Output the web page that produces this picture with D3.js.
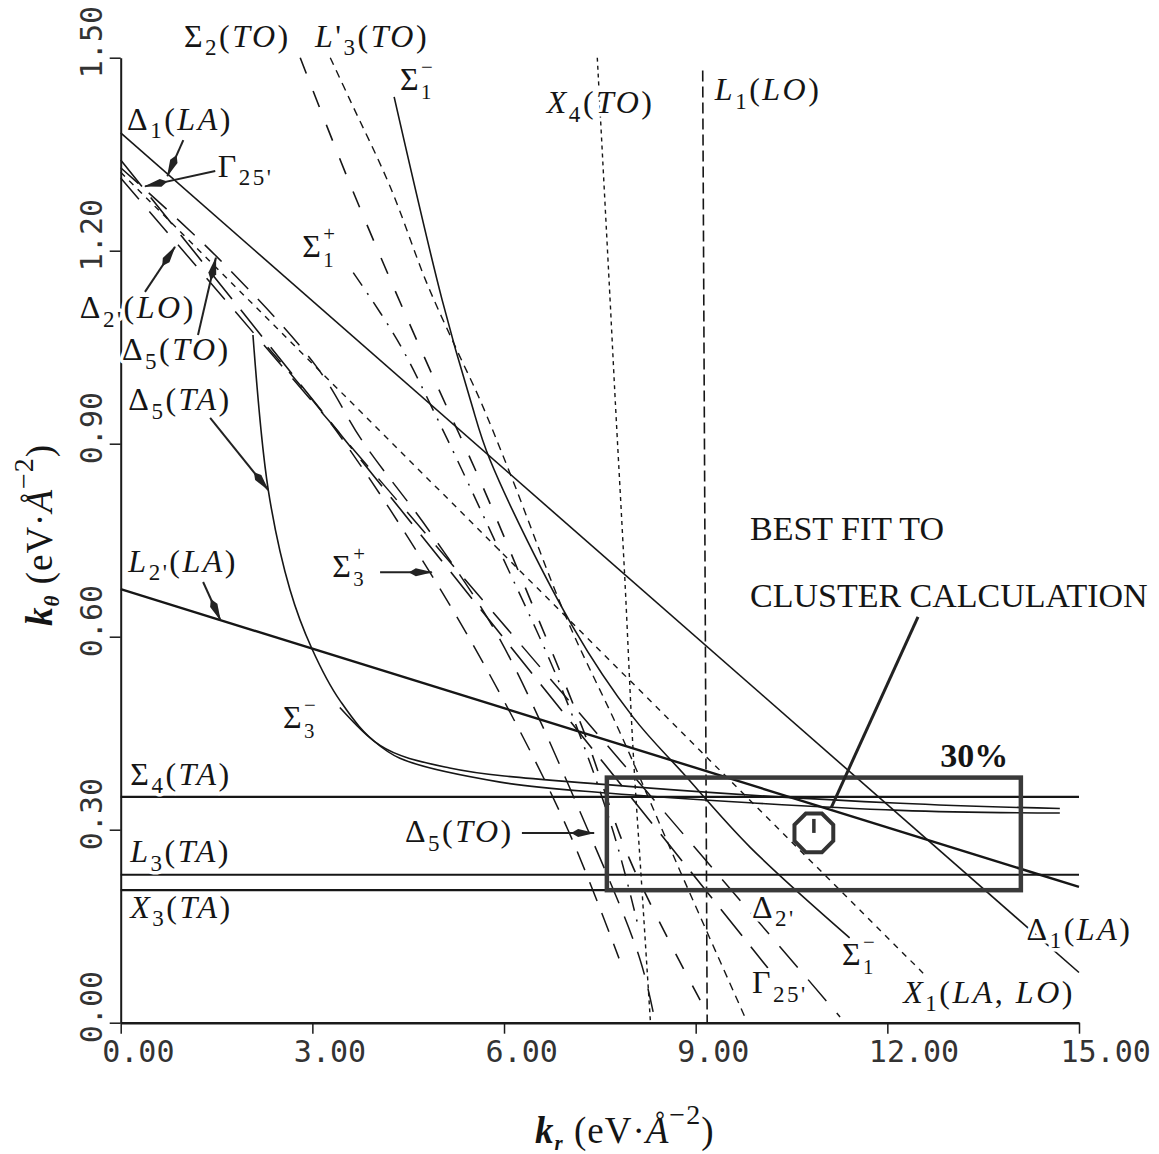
<!DOCTYPE html>
<html>
<head>
<meta charset="utf-8">
<script src="https://cdn.jsdelivr.net/npm/d3@7"></script>
<style>
  body { margin: 0; background: #fff; }
  svg { display: block; }
  .lbl { font-family: "Liberation Serif", serif; font-size: 32px; fill: #151515; letter-spacing: 2.5px;
         paint-order: stroke; stroke: #fff; stroke-width: 7px; stroke-linejoin: round; }
  .note { font-family: "Liberation Serif", serif; font-size: 34px; fill: #151515; }
  .title { font-family: "Liberation Serif", serif; font-size: 37px; fill: #151515; letter-spacing: 1px; }
</style>
</head>
<body>
<div id="chart"></div>
<script>
// axis ticks
const xTicks = [0, 3, 6, 9, 12, 15];
const yTicks = [0, 0.3, 0.6, 0.9, 1.2, 1.5];

// mode lines, [k_r, k_theta]
const delta1LA = [[0, 1.383], [15, 0.078]];
const l2LA     = [[0, 0.674], [15, 0.211]];
const sigma4TA = [[0, 0.351], [15, 0.351]];
const l3TA     = [[0, 0.230], [15, 0.230]];
const x3TA     = [[0, 0.206], [14.09, 0.206]];
const delta5TA = [[2.07, 1.069], [2.31, 0.828], [2.65, 0.673], [2.99, 0.582], [3.43, 0.501],
                  [4.06, 0.431], [5.15, 0.396], [7.61, 0.370], [12.2, 0.341], [14.7, 0.333]];
const sigma3m  = [[3.43, 0.490], [3.90, 0.443], [4.37, 0.411], [5.94, 0.374], [7.61, 0.357],
                  [12.2, 0.330], [14.7, 0.326]];
const sigma1m  = [[4.28, 1.439], [5.03, 1.124], [5.47, 0.969], [5.78, 0.875], [7.08, 0.615],
                  [8.02, 0.475], [8.80, 0.388], [9.85, 0.273], [11.41, 0.132]];
const x4TO     = [[7.46, 1.5], [7.66, 1.124], [7.74, 0.969], [7.89, 0.692], [8.02, 0.424],
                  [8.16, 0.206], [8.29, 0.004]];
const l1LO     = [[9.11, 1.48], [9.18, 0.0]];
const l3pTO    = [[3.28, 1.5], [3.59, 1.434], [4.22, 1.299], [4.79, 1.15], [5.26, 1.046],
                  [5.62, 0.969], [6.09, 0.855], [6.99, 0.626], [7.82, 0.45], [8.75, 0.237], [9.77, 0.009]];
const sigma2TO = [[2.81, 1.5], [3.53, 1.318], [4.29, 1.139], [4.89, 1.004], [5.62, 0.844],
                  [6.25, 0.696], [7.24, 0.455], [7.97, 0.253], [9.07, 0.035]];
const sigma1p  = [[3.64, 1.166], [4.33, 1.061], [5.0, 0.93], [5.9, 0.74], [6.9, 0.52],
                  [7.7, 0.30], [8.1, 0.15]];
const gamma25  = [[0, 1.341], [10.13, 0.085]];
const delta2LO = [[0, 1.313], [11.26, 0.009]];
const x1LALO   = [[0, 1.322], [12.56, 0.077]];
const delta5TO = [[0, 1.329], [1.51, 1.19], [3.07, 1.019], [3.79, 0.903], [4.84, 0.763],
                  [5.94, 0.595], [7.35, 0.291], [8.13, 0.098], [8.36, 0.004]];
const sigma3p  = [[2.3, 1.05], [3.3, 0.93], [4.84, 0.70], [6.0, 0.50], [7.0, 0.30], [7.8, 0.10]];

// 30% box round the best fit
const bestFit = [10.85, 0.295];
const boxKr = [7.61, 14.09];
const boxKt = [0.206, 0.381];

// labels: [k_r, k_theta, text]
const labels = [
  [0.99, 1.517, "Σ_{2}(TO)"],
  [3.04, 1.517, "L'_{3}(TO)"],
  [4.37, 1.450, "Σ_{1}^{−}"],
  [6.67, 1.414, "X_{4}(TO)"],
  [9.30, 1.434, "L_{1}(LO)"],
  [0.10, 1.388, "Δ_{1}(LA)"],
  [1.52, 1.315, "Γ_{25'}"],
  [2.84, 1.190, "Σ_{1}^{+}"],
  [-0.64, 1.095, "Δ_{2'}(LO)"],
  [0.02, 1.030, "Δ_{5}(TO)"],
  [0.12, 0.952, "Δ_{5}(TA)"],
  [0.12, 0.701, "L_{2'}(LA)"],
  [3.31, 0.693, "Σ_{3}^{+}"],
  [2.54, 0.458, "Σ_{3}^{−}"],
  [0.15, 0.370, "Σ_{4}(TA)"],
  [0.15, 0.250, "L_{3}(TA)"],
  [0.15, 0.163, "X_{3}(TA)"],
  [4.45, 0.281, "Δ_{5}(TO)"],
  [9.88, 0.163, "Δ_{2'}"],
  [11.29, 0.090, "Σ_{1}^{−}"],
  [9.88, 0.046, "Γ_{25'}"],
  [12.25, 0.031, "X_{1}(LA, LO)"],
  [14.18, 0.129, "Δ_{1}(LA)"]
];

// pointer arrows: [from, to]
const arrows = [
  [[0.98, 1.372], [0.73, 1.316]],
  [[1.48, 1.324], [0.38, 1.300]],
  [[0.38, 1.136], [0.85, 1.206]],
  [[1.21, 1.069], [1.49, 1.189]],
  [[1.40, 0.940], [2.31, 0.828]],
  [[1.29, 0.685], [1.56, 0.626]],
  [[4.06, 0.700], [4.87, 0.700]],
  [[6.28, 0.295], [7.41, 0.295]]
];

const W = 1159, H = 1154;
const x = d3.scaleLinear().domain([0, 15]).range([120.7, 1079]);
const y = d3.scaleLinear().domain([0, 1.5]).range([1022.7, 57.7]);

const svg = d3.select("#chart").append("svg").attr("width", W).attr("height", H);

svg.append("defs").append("marker")
    .attr("id", "head")
    .attr("viewBox", "0 -5 24 10")
    .attr("refX", 23).attr("refY", 0)
    .attr("markerWidth", 24).attr("markerHeight", 10)
    .attr("markerUnits", "userSpaceOnUse")
    .attr("orient", "auto")
  .append("path")
    .attr("d", "M0,0 L7,-4 L24,0 L7,4 Z")
    .attr("fill", "#222");

// ---- axes
const xAxis = d3.axisBottom(x).tickValues(xTicks).tickFormat(d3.format(".2f"))
    .tickSize(11).tickSizeOuter(0);
svg.append("g")
    .attr("transform", `translate(0,${y(0)})`)
    .call(xAxis)
    .attr("font-family", "DejaVu Sans Mono").attr("font-size", 30).attr("color", "#1a1a1a")
    .call(g => g.select(".domain").attr("stroke-width", 2.4))
    .call(g => g.selectAll(".tick line").attr("stroke-width", 1.5))
    .call(g => g.selectAll(".tick text").attr("fill", "#333")
        .attr("x", -19).attr("y", 39).attr("dy", 0).attr("text-anchor", "start"));

const yAxis = d3.axisLeft(y).tickValues(yTicks).tickFormat(d3.format(".2f"))
    .tickSize(11).tickSizeOuter(0);
svg.append("g")
    .attr("transform", `translate(${x(0)},0)`)
    .call(yAxis)
    .attr("font-family", "DejaVu Sans Mono").attr("font-size", 30).attr("color", "#1a1a1a")
    .call(g => g.select(".domain").attr("stroke-width", 2))
    .call(g => g.selectAll(".tick line").attr("stroke-width", 1.5))
    .call(g => g.selectAll(".tick text").attr("fill", "#333")
        .attr("x", 0).attr("dy", 0).attr("text-anchor", "start")
        .attr("transform", "translate(-19,20) rotate(-90)"));

// ---- mode lines
const line = d3.line()
    .x(d => x(d[0])).y(d => y(d[1]))
    .curve(d3.curveCatmullRom.alpha(0.5));

const modes = [
  {d: sigma2TO, dash: "17,19", w: 1.6},
  {d: l3pTO,    dash: "8,6",   w: 1.4},
  {d: sigma1p,  dash: "16,9,2,9", w: 1.5},
  {d: sigma3p,  dash: "20,13", w: 1.5},
  {d: delta5TO, dash: "24,14", w: 1.5},
  {d: gamma25,  dash: "34,14", w: 1.6},
  {d: delta2LO, dash: "28,16", w: 1.5},
  {d: x1LALO,   dash: "6,6",   w: 1.4},
  {d: x4TO,     dash: "4,4",   w: 1.4},
  {d: l1LO,     dash: "11,5",  w: 1.6},
  {d: sigma1m,  dash: null,    w: 1.6},
  {d: delta5TA, dash: null,    w: 1.6},
  {d: sigma3m,  dash: null,    w: 1.6},
  {d: delta1LA, dash: null,    w: 1.6},
  {d: l2LA,     dash: null,    w: 2.4},
  {d: sigma4TA, dash: null,    w: 2.2},
  {d: l3TA,     dash: null,    w: 2.2},
  {d: x3TA,     dash: null,    w: 2.2}
];

svg.append("g").selectAll("path")
  .data(modes)
  .join("path")
    .attr("d", m => line(m.d))
    .attr("fill", "none")
    .attr("stroke", "#161616")
    .attr("stroke-width", m => m.w)
    .attr("stroke-dasharray", m => m.dash);

// ---- 30% box and best fit
svg.append("rect")
    .attr("x", x(boxKr[0])).attr("y", y(boxKt[1]))
    .attr("width", x(boxKr[1]) - x(boxKr[0]))
    .attr("height", y(boxKt[0]) - y(boxKt[1]))
    .attr("fill", "none").attr("stroke", "#3a3a3a").attr("stroke-width", 4.5);

const cx = x(bestFit[0]), cy = y(bestFit[1]);
const octa = d3.range(8).map(i => {
  const a = Math.PI / 8 + i * Math.PI / 4;
  return [cx + 21 * Math.cos(a), cy + 21 * Math.sin(a)];
});
svg.append("polygon")
    .attr("points", octa.map(p => p.join(",")).join(" "))
    .attr("fill", "none").attr("stroke", "#333").attr("stroke-width", 4);
svg.append("line")
    .attr("x1", cx).attr("y1", cy - 14).attr("x2", cx).attr("y2", cy)
    .attr("stroke", "#333").attr("stroke-width", 3.5);

// pointer from the note to the best fit
svg.append("line")
    .attr("x1", x(12.48)).attr("y1", y(0.631))
    .attr("x2", x(11.12)).attr("y2", y(0.334))
    .attr("stroke", "#222").attr("stroke-width", 3);

// ---- arrows
svg.append("g").selectAll("line")
  .data(arrows)
  .join("line")
    .attr("x1", a => x(a[0][0])).attr("y1", a => y(a[0][1]))
    .attr("x2", a => x(a[1][0])).attr("y2", a => y(a[1][1]))
    .attr("stroke", "#222").attr("stroke-width", 2)
    .attr("marker-end", "url(#head)");

// ---- labels with sub/superscripts
function rich(text, str, size) {
  const parts = [];
  let i = 0;
  while (i < str.length) {
    if ((str[i] === "_" || str[i] === "^") && str[i + 1] === "{") {
      const end = str.indexOf("}", i);
      parts.push({t: str.slice(i + 2, end), m: str[i] === "_" ? "sub" : "sup"});
      i = end + 1;
    } else {
      let j = i;
      while (j < str.length && !((str[j] === "_" || str[j] === "^") && str[j + 1] === "{")) j++;
      parts.push({t: str.slice(i, j), m: "n"});
      i = j;
    }
  }
  let shift = 0;
  parts.forEach((p, k) => {
    const stacked = k > 0 && parts[k - 1].m === "sub" && p.m === "sup" ||
                    k + 1 < parts.length && p.m === "sub" && parts[k + 1].m === "sup";
    let target = 0, fs = size;
    if (p.m === "sub") { target = stacked ? 0.3 * size : 0.27 * size; fs = (stacked ? 0.65 : 0.72) * size; }
    if (p.m === "sup") { target = -0.5 * size; fs = 0.65 * size; }
    const back = p.m === "sup" && k > 0 && parts[k - 1].m === "sub";
    // latin letters italic, the rest upright
    const runs = p.t.match(/[A-Za-z]+|[^A-Za-z]+/g) || [];
    runs.forEach((r, ri) => {
      const ts = text.append("tspan")
          .attr("font-size", fs)
          .attr("font-style", /[A-Za-z]/.test(r) ? "italic" : "normal")
          .text(r);
      if (ri === 0) {
        ts.attr("dy", target - shift);
        if (back) ts.attr("dx", -0.62 * fs);
        shift = target;
      }
    });
  });
}

labels.forEach(l => {
  const t = svg.append("text").attr("class", "lbl")
      .attr("x", x(l[0])).attr("y", y(l[1]));
  rich(t, l[2], 32);
});

svg.append("text").attr("class", "note")
    .attr("x", x(12.83)).attr("y", y(0.398))
    .attr("font-size", 30).attr("font-weight", "bold").text("30%");
svg.append("text").attr("class", "note")
    .attr("x", x(9.85)).attr("y", y(0.750)).text("BEST FIT TO");
svg.append("text").attr("class", "note")
    .attr("x", x(9.85)).attr("y", y(0.646)).text("CLUSTER CALCULATION");

// ---- axis titles
function axisTitle(sel, sub) {
  sel.append("tspan").attr("font-weight", "bold").attr("font-style", "italic").text("k");
  sel.append("tspan").attr("font-size", 21).attr("dy", 7).attr("font-weight", "bold")
      .attr("font-style", "italic").text(sub);
  sel.append("tspan").attr("dy", -7).text("  (eV·");
  sel.append("tspan").attr("font-style", "italic").text("Å");
  sel.append("tspan").attr("font-size", 28).attr("dy", -19).text("−2");
  sel.append("tspan").attr("dy", 19).text(")");
}
axisTitle(svg.append("text").attr("class", "title")
    .attr("transform", "translate(52,626) rotate(-90)"), "θ");
axisTitle(svg.append("text").attr("class", "title")
    .attr("x", 535).attr("y", 1143), "r");
</script>
</body>
</html>
